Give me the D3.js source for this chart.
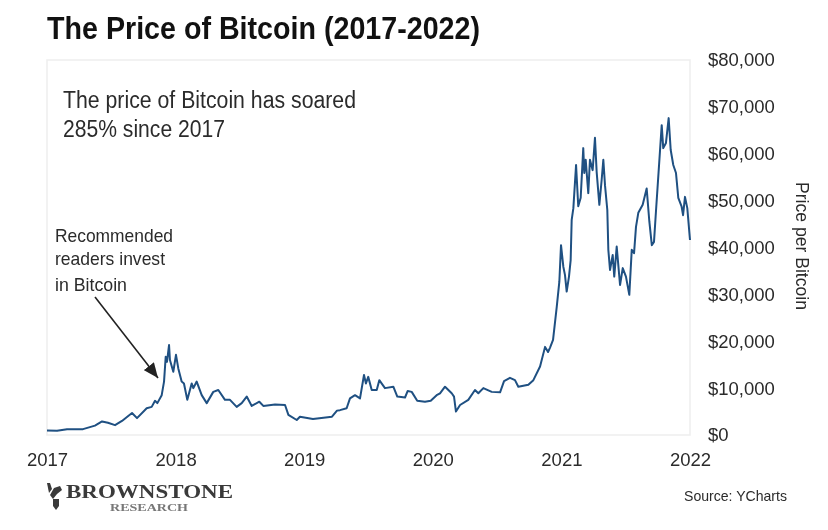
<!DOCTYPE html>
<html>
<head>
<meta charset="utf-8">
<script src="https://cdn.jsdelivr.net/npm/d3@7"></script>
<style>
  html, body { margin: 0; background: #fff; }
  svg { display: block; filter: blur(0.45px); }
  text { font-family: "Liberation Sans", Arial, sans-serif; fill: #2b2b2b; }
</style>
</head>
<body>
<div id="viz"></div>
<script>
// Values (decimal year, USD)
const years = [
  2017.00, 2017.078, 2017.156, 2017.28, 2017.373, 2017.428, 2017.474, 2017.529, 2017.583, 2017.661, 2017.70, 2017.775, 2017.814, 2017.84, 2017.858, 2017.892, 2017.91, 2017.923, 2017.933, 2017.949, 2017.956, 2017.982,
  2018.003, 2018.021, 2018.047, 2018.065, 2018.091, 2018.125, 2018.138, 2018.164, 2018.203, 2018.242, 2018.293, 2018.332, 2018.384, 2018.423, 2018.475, 2018.514, 2018.553, 2018.592, 2018.651, 2018.682, 2018.773, 2018.851, 2018.877, 2018.942, 2018.967,
  2019.068, 2019.216, 2019.255, 2019.278, 2019.33, 2019.356, 2019.395, 2019.434, 2019.465, 2019.48, 2019.498, 2019.525, 2019.564, 2019.584, 2019.628, 2019.693, 2019.724, 2019.784, 2019.805, 2019.836, 2019.879, 2019.939, 2019.984,
  2020.03, 2020.056, 2020.095, 2020.147, 2020.165, 2020.18, 2020.212, 2020.276, 2020.328, 2020.354, 2020.393, 2020.458, 2020.523, 2020.554, 2020.60, 2020.639, 2020.665, 2020.743, 2020.782, 2020.834, 2020.873, 2020.896, 2020.911, 2020.935, 2020.964, 2020.984, 2020.997,
  2021.015, 2021.028, 2021.041, 2021.059, 2021.072, 2021.08, 2021.093, 2021.114, 2021.131, 2021.15, 2021.17, 2021.178, 2021.189, 2021.209, 2021.222, 2021.243, 2021.261, 2021.274, 2021.295, 2021.313, 2021.326, 2021.339, 2021.357, 2021.365, 2021.378, 2021.399, 2021.411, 2021.43, 2021.456, 2021.477, 2021.502, 2021.528, 2021.547, 2021.565, 2021.58, 2021.598, 2021.632, 2021.663, 2021.684, 2021.703, 2021.72, 2021.736, 2021.78, 2021.792, 2021.813, 2021.834, 2021.85, 2021.87, 2021.891, 2021.909, 2021.935, 2021.946, 2021.961, 2021.979, 2022.0
];
const prices = [
  950, 900, 1250, 1250, 2000, 2900, 2600, 2100, 3000, 4700, 3600, 5700, 6000, 7300, 6800, 8500, 11400, 16700, 15600, 19200, 16000, 13500,
  17100, 14200, 11400, 11000, 7500, 11000, 10000, 11400, 8500, 6800, 9200, 9600, 7500, 7500, 6000, 6800, 8200, 6200, 7100, 6200, 6500, 6400, 4300, 3200, 3900,
  3400, 3900, 5200, 5300, 5700, 7800, 8500, 7800, 12800, 11000, 12400, 9600, 9600, 11700, 10000, 10300, 8200, 8000, 9400, 9200, 7300, 7100, 7300,
  8500, 8900, 10300, 8900, 8200, 5000, 6400, 7500, 9600, 8900, 10000, 9200, 9100, 11500, 12200, 11700, 10300, 10700, 11700, 14600, 18800, 17700, 18600, 20300, 27400, 32700, 40500,
  35900, 34100, 30600, 33800, 37300, 45900, 48400, 57600, 48800, 50600, 61200, 55900, 58700, 51600, 58700, 56500, 63400, 56200, 49100, 54400, 58700, 53300, 48000, 39500, 35200, 38400, 33800, 40200, 32000, 35600, 33800, 29900, 39500, 38800, 44400, 47400, 49100, 52600, 45500, 40500, 41200, 48000, 66100, 61200, 62300, 67600, 60800, 57600, 55900, 50600, 48700, 46900, 50800, 48400, 41600
];
const xTicks = [2017, 2018, 2019, 2020, 2021, 2022];
const yTicks = [0, 10000, 20000, 30000, 40000, 50000, 60000, 70000, 80000];

const width = 828, height = 530;
const margin = { top: 60, right: 138, bottom: 95, left: 47 };

const svg = d3.select("#viz").append("svg")
    .attr("width", width)
    .attr("height", height);

const x = d3.scaleLinear()
    .domain([2017, 2022])
    .range([margin.left, width - margin.right]);

const y = d3.scaleLinear()
    .domain([0, 80000])
    .range([height - margin.bottom, margin.top]);

// frame
svg.append("rect")
    .attr("x", margin.left)
    .attr("y", margin.top)
    .attr("width", width - margin.right - margin.left)
    .attr("height", height - margin.bottom - margin.top)
    .attr("fill", "none")
    .attr("stroke", "#eeeeee")
    .attr("stroke-width", 1.5);

// axes
const xAxis = svg.append("g")
    .attr("transform", `translate(0,${height - margin.bottom})`)
    .call(d3.axisBottom(x).tickValues(xTicks).tickFormat(d3.format("d")).tickSize(0).tickPadding(18));
xAxis.select(".domain").remove();
xAxis.selectAll("text").style("font-size", "18.5px").style("font-family", "Liberation Sans");

const yAxis = svg.append("g")
    .attr("transform", `translate(${width - margin.right},0)`)
    .call(d3.axisRight(y).tickValues(yTicks).tickFormat(d3.format("$,d")).tickSize(0).tickPadding(18));
yAxis.select(".domain").remove();
yAxis.selectAll("text").style("font-size", "18.5px").style("font-family", "Liberation Sans");

// price line
const line = d3.line()
    .x((d, i) => x(years[i]))
    .y(d => y(d));

svg.append("path")
    .datum(prices)
    .attr("d", line)
    .attr("fill", "none")
    .attr("stroke", "#1f5082")
    .attr("stroke-width", 2)
    .attr("stroke-linejoin", "round");

// squeezes a label to the width it has in the picture
function label(px, py, size, w, t) {
  return svg.append("text")
    .attr("x", px).attr("y", py)
    .attr("font-size", size)
    .attr("textLength", w)
    .attr("lengthAdjust", "spacingAndGlyphs")
    .text(t);
}

// title and notes
label(47, 39, 31, 433, "The Price of Bitcoin (2017-2022)")
    .attr("font-weight", "bold")
    .style("fill", "#111");

label(63, 108, 23.5, 293, "The price of Bitcoin has soared");
label(63, 137, 23.5, 162, "285% since 2017");

label(55, 242, 18.5, 118, "Recommended");
label(55, 265, 18.5, 110, "readers invest");
label(55, 291, 18.5, 72, "in Bitcoin");

// arrow
svg.append("defs").append("marker")
    .attr("id", "head")
    .attr("markerUnits", "userSpaceOnUse")
    .attr("viewBox", "0 0 15 13")
    .attr("refX", 15).attr("refY", 6.5)
    .attr("markerWidth", 15).attr("markerHeight", 13)
    .attr("orient", "auto")
  .append("path")
    .attr("d", "M0,0L15,6.5L0,13Z")
    .attr("fill", "#222");

svg.append("line")
    .attr("x1", 95).attr("y1", 297)
    .attr("x2", 158).attr("y2", 378)
    .attr("stroke", "#222")
    .attr("stroke-width", 1.6)
    .attr("marker-end", "url(#head)");

// logo
const logo = svg.append("g").attr("fill", "#3a3a3a");
logo.append("path").attr("d", "M47,483L50,483L52,489L49,493Z");
logo.append("path").attr("d", "M50,495L54,488L60,486L62,490L57,494L53,499Z");
logo.append("path").attr("d", "M53,499L59,499L59,506L56,510L53,506Z");

label(66, 498, 18, 167, "BROWNSTONE")
    .style("font-family", "Liberation Serif")
    .style("fill", "#3a3a3a")
    .attr("font-weight", "bold");
label(110, 511, 11, 78, "RESEARCH")
    .style("font-family", "Liberation Serif")
    .style("fill", "#777")
    .attr("font-weight", "bold");

label(684, 501, 14.5, 103, "Source: YCharts");

// right axis label
label(0, 0, 18.5, 128, "Price per Bitcoin")
    .attr("transform", "translate(796,182) rotate(90)");
</script>
</body>
</html>
